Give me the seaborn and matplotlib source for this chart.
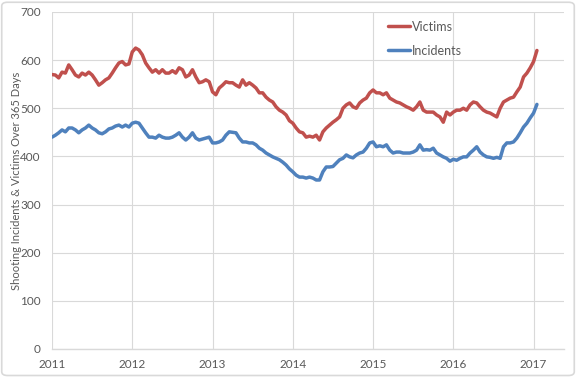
"""Shooting incidents and victims over a rolling 365-day window."""

import matplotlib.pyplot as plt
import numpy as np
import pandas as pd
import seaborn as sns
from matplotlib.patches import FancyBboxPatch

# half-monthly readings (1/24 year apart) starting Jan 2011
START_YEAR = 2011
STEPS_PER_YEAR = 24

VICTIMS = [
    570, 569, 563, 575, 573, 590, 580, 569, 565, 573, 569, 575, 569, 559, 548,
    553, 559, 563, 573, 584, 594, 597, 590, 592, 617, 625, 621, 611, 594, 584,
    575, 580, 573, 580, 573,
    573, 578, 573, 584, 580, 565, 569, 580, 565, 553, 555, 559, 555, 534, 528,
    542, 548, 555, 553, 553, 548, 544, 559, 548, 553, 548, 542, 532, 532, 523,
    517, 513, 503, 496, 492, 486,
    474, 469, 459, 451, 449, 440, 442, 440, 444, 434, 451, 459, 465, 471, 476,
    482, 500, 507, 511, 503, 500, 511, 517, 521, 532, 538, 532, 532, 528, 532,
    521, 517, 513, 511, 507, 503,
    500, 496, 503, 513, 496, 492, 492, 492, 486, 482, 471, 492, 486, 492, 496,
    496, 500, 496, 507, 513, 511, 503, 496, 492, 490, 486, 482, 500, 513, 517,
    521, 523, 534, 544, 565, 573, 584, 597, 620,
]

INCIDENTS = [
    440, 444, 449, 455, 451, 459, 459, 455, 449, 455, 459, 465, 459, 455, 449,
    447, 451, 457, 459, 463, 465, 461, 465, 461, 469, 471, 469, 459, 449, 440,
    440, 438, 444, 440, 438,
    438, 440, 444, 449, 440, 434, 440, 449, 438, 434, 436, 438, 440, 428, 428,
    430, 434, 444, 451, 450, 449, 438, 430, 430, 428, 428, 424, 417, 413, 407,
    403, 399, 396, 393, 388, 382,
    374, 368, 361, 357, 357, 355, 357, 355, 351, 351, 368, 378, 378, 379, 386,
    393, 396, 403, 399, 397, 403, 407, 409, 417, 428, 430, 420, 422, 420, 424,
    413, 407, 409, 409, 407, 407,
    407, 409, 413, 424, 413, 414, 413, 417, 407, 403, 399, 396, 390, 394, 392,
    396, 399, 399, 407, 413, 420, 409, 403, 399, 398, 396, 398, 396, 420, 428,
    428, 430, 438, 449, 461, 469, 480, 490, 508,
]

Y_TICKS = [0, 100, 200, 300, 400, 500, 600, 700]
X_TICKS = [2011, 2012, 2013, 2014, 2015, 2016, 2017]

RED = "#C0504D"
BLUE = "#4F81BD"
GRID = "#D9D9D9"
TEXT = "#595959"


def build_frame() -> pd.DataFrame:
    years = START_YEAR + np.arange(len(VICTIMS)) / STEPS_PER_YEAR
    victims = pd.DataFrame({"year": years, "count": VICTIMS, "series": "Victims"})
    incidents = pd.DataFrame(
        {"year": years[: len(INCIDENTS)], "count": INCIDENTS, "series": "Incidents"}
    )
    return pd.concat([victims, incidents], ignore_index=True)


def main() -> None:
    sns.set_theme(style="whitegrid")
    plt.rcParams["font.family"] = ["Lato", "DejaVu Sans"]

    df = build_frame()

    fig = plt.figure(figsize=(5.76, 3.77), dpi=100)
    ax = fig.add_axes([0.0903, 0.0743, 0.889, 0.894])

    sns.lineplot(
        data=df,
        x="year",
        y="count",
        hue="series",
        hue_order=["Victims", "Incidents"],
        palette={"Victims": RED, "Incidents": BLUE},
        linewidth=2.5,
        solid_capstyle="round",
        solid_joinstyle="round",
        ax=ax,
        legend=True,
    )

    ax.set_xlim(2011, 2017.38)
    ax.set_ylim(0, 700)
    ax.set_xticks(X_TICKS)
    ax.set_xticklabels([str(y) for y in X_TICKS])
    ax.set_yticks(Y_TICKS)
    ax.set_xlabel("")
    ax.set_ylabel("Shooting Incidents & Victims Over 365 Days", color=TEXT, fontsize=8)
    ax.yaxis.set_label_coords(-0.058, 0.5)

    ax.grid(True, color=GRID, linewidth=0.8)
    ax.set_facecolor("white")
    for side in ["top", "right", "left"]:
        ax.spines[side].set_visible(False)
    ax.spines["bottom"].set_color(GRID)
    ax.spines["bottom"].set_linewidth(1.0)
    ax.tick_params(axis="both", length=0, colors=TEXT, labelsize=8.5)
    ax.tick_params(axis="y", pad=8)
    ax.tick_params(axis="x", pad=7)

    legend = ax.legend(
        loc="upper left",
        bbox_to_anchor=(0.635, 1.007),
        frameon=False,
        fontsize=9,
        handlelength=1.7,
        handletextpad=0.15,
        labelspacing=0.95,
    )
    for text in legend.get_texts():
        text.set_color(TEXT)

    border = FancyBboxPatch(
        (0.003, 0.004), 0.994, 0.99,
        boxstyle="round,pad=0,rounding_size=0.01",
        transform=fig.transFigure,
        facecolor="none",
        edgecolor=GRID,
        linewidth=1.2,
    )
    fig.patches.append(border)

    fig.savefig("out.png", dpi=100)
    plt.close(fig)


if __name__ == "__main__":
    main()
